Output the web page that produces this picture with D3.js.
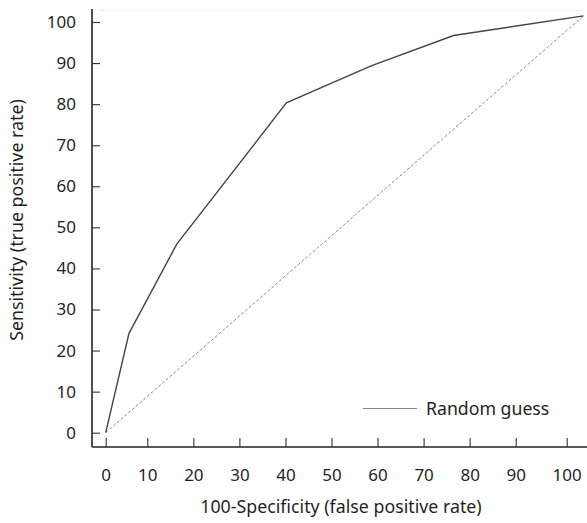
<!DOCTYPE html>
<html>
<head>
<meta charset="utf-8">
<script src="https://cdn.jsdelivr.net/npm/d3@7"></script>
<style>
  body { margin: 0; background: #fff; }
  svg { display: block; }
  text { font-family: "Noto Sans", "Open Sans", sans-serif; fill: #1f1f1f; }
</style>
</head>
<body>
<svg width="587" height="523"></svg>
<script>
const svg = d3.select("svg"),
    width = +svg.attr("width"),
    height = +svg.attr("height")

// ROC curve (100-specificity, sensitivity)
const fpr = [0, 5.6, 16.4, 40.2, 58.6, 76.5, 103.3],
    sensitivity = [0, 24.2, 45.9, 80.3, 89.3, 96.7, 101.5]

// random guess diagonal
const guessFpr = [0, 103.3],
    guessSens = [0, 101.5]

const xTicks = [0, 10, 20, 30, 40, 50, 60, 70, 80, 90, 100],
    yTicks = [0, 10, 20, 30, 40, 50, 60, 70, 80, 90, 100]

const xTitle = "100-Specificity (false positive rate)",
    yTitle = "Sensitivity (true positive rate)",
    legendLabel = "Random guess"

// the printed x ticks are not evenly spaced at the ends, so use a piecewise scale
const x = d3.scaleLinear().domain([0, 10, 90, 100]).range([105.7, 147.3, 515.7, 566.7]),
    y = d3.scaleLinear().domain([0, 100]).range([432.7, 22])

const axisX = 92, axisY = 447

// faint top border
svg.append("line")
    .attr("x1", 100).attr("x2", 584)
    .attr("y1", 10).attr("y2", 10)
    .attr("stroke", "#ececec")
    .attr("stroke-width", 1)

// axis lines
svg.append("line")
    .attr("x1", axisX).attr("x2", axisX)
    .attr("y1", 9).attr("y2", axisY)
    .attr("stroke", "#222").attr("stroke-width", 1.6)
svg.append("line")
    .attr("x1", axisX).attr("x2", width)
    .attr("y1", axisY).attr("y2", axisY)
    .attr("stroke", "#222").attr("stroke-width", 1.6)

const gy = svg.append("g")
    .attr("transform", `translate(${axisX},0)`)
    .call(d3.axisLeft(y).tickValues(yTicks).tickSize(-8).tickPadding(16))
gy.select(".domain").remove()

const gx = svg.append("g")
    .attr("transform", `translate(0,${axisY})`)
    .call(d3.axisBottom(x).tickValues(xTicks).tickSize(-9).tickPadding(21.6))
gx.select(".domain").remove()

svg.selectAll(".tick line").attr("stroke", "#333").attr("stroke-width", 1.1)
svg.selectAll(".tick text")
    .attr("font-family", "'Noto Sans', 'Open Sans', sans-serif")
    .attr("font-size", 17)
    .attr("fill", "#1f1f1f")

// axis titles
svg.append("text")
    .attr("x", 341).attr("y", 513)
    .attr("text-anchor", "middle")
    .attr("font-size", 17.8)
    .text(xTitle)

svg.append("text")
    .attr("transform", "translate(23,220) rotate(-90)")
    .attr("text-anchor", "middle")
    .attr("font-size", 17.8)
    .text(yTitle)

const line = d3.line()
    .x(d => x(d[0]))
    .y(d => y(d[1]))

// random guess line (dashed)
svg.append("path")
    .datum(guessFpr.map((v, i) => [v, guessSens[i]]))
    .attr("d", line)
    .attr("fill", "none")
    .attr("stroke", "#888")
    .attr("stroke-width", 1)
    .attr("stroke-dasharray", "3,2")

// ROC curve
svg.append("path")
    .datum(fpr.map((v, i) => [v, sensitivity[i]]))
    .attr("d", line)
    .attr("fill", "none")
    .attr("stroke", "#444")
    .attr("stroke-width", 1.4)

// legend
svg.append("line")
    .attr("x1", 363).attr("x2", 417)
    .attr("y1", 408.5).attr("y2", 408.5)
    .attr("stroke", "#888")
    .attr("stroke-width", 1)
svg.append("text")
    .attr("x", 426).attr("y", 414.5)
    .attr("font-size", 17.7)
    .text(legendLabel)
</script>
</body>
</html>
